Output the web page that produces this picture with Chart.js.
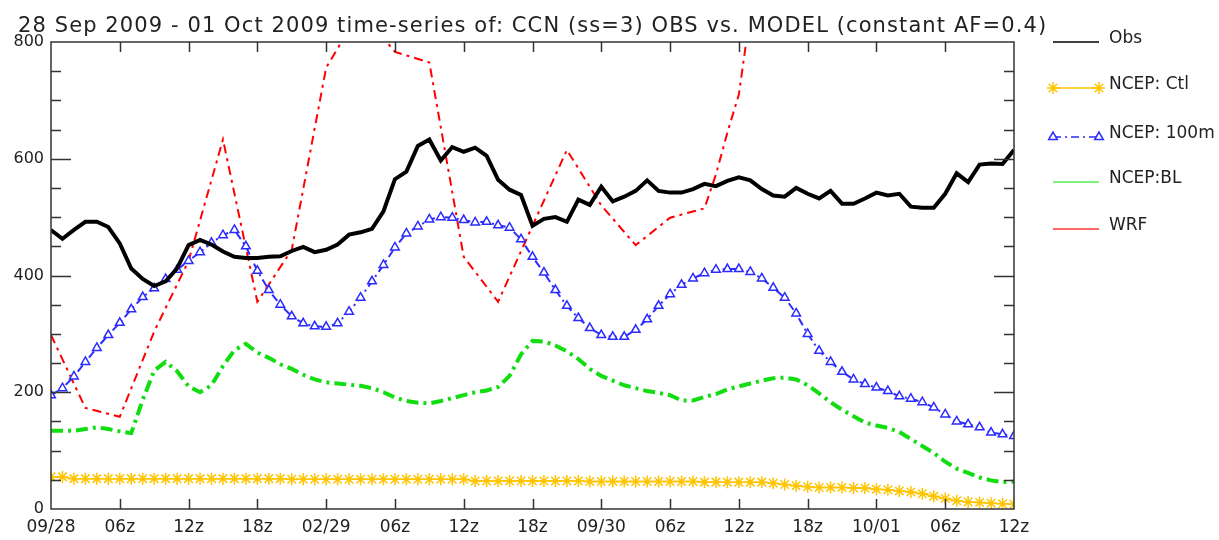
<!DOCTYPE html>
<html>
<head>
<meta charset="utf-8">
<script src="https://cdn.jsdelivr.net/npm/chart.js@4/dist/chart.umd.min.js"></script>
<style>
    html, body { margin: 0; padding: 0; background: #fff; }
    #wrap { width: 1219px; height: 540px; position: relative; }
</style>
</head>
<body>
<div id="wrap"><canvas id="chart_ccn"></canvas></div>
<script>
const titleText = "28 Sep 2009 - 01 Oct 2009 time-series of: CCN (ss=3) OBS vs. MODEL (constant AF=0.4)";

// x ticks every 6 h from 09/28 00z to 10/01 12z
const xTickLabels = ["09/28", "06z", "12z", "18z", "02/29", "06z", "12z", "18z",
    "09/30", "06z", "12z", "18z", "10/01", "06z", "12z"];

// hourly time axis (hours since 09/28 00z)
const hours = [
    0, 1, 2, 3, 4, 5, 6, 7, 8, 9, 10, 11, 12, 13, 14, 15, 16, 17, 18, 19,
    20, 21, 22, 23, 24, 25, 26, 27, 28, 29, 30, 31, 32, 33, 34, 35, 36, 37, 38, 39,
    40, 41, 42, 43, 44, 45, 46, 47, 48, 49, 50, 51, 52, 53, 54, 55, 56, 57, 58, 59,
    60, 61, 62, 63, 64, 65, 66, 67, 68, 69, 70, 71, 72, 73, 74, 75, 76, 77, 78, 79,
    80, 81, 82, 83, 84];

const obsValues = [
    478, 463, 478, 492, 492, 483, 455, 412, 394, 382,
    390, 412, 452, 461, 453, 441, 432, 430, 430, 432,
    433, 442, 449, 440, 444, 453, 470, 474, 480, 510,
    565, 578, 622, 633, 597, 620, 612, 619, 605, 564,
    547, 538, 485, 497, 500, 492, 530, 521, 552, 527,
    535, 545, 563, 545, 542, 542, 548, 557, 553, 562,
    568, 563, 548, 537, 535, 550, 540, 532, 545, 523,
    523, 532, 542, 537, 540, 518, 516, 516, 540, 575,
    560, 590, 592, 591, 615];

const ctlValues = [
    55, 55, 52, 52, 52, 52, 52, 52, 52, 52,
    52, 52, 52, 52, 52, 52, 52, 52, 52, 52,
    52, 51, 51, 51, 51, 51, 51, 51, 51, 51,
    51, 51, 51, 51, 51, 51, 51, 48, 48, 48,
    48, 48, 48, 48, 48, 48, 48, 47, 47, 47,
    47, 47, 47, 47, 47, 47, 47, 46, 46, 46,
    46, 46, 46, 44, 42, 40, 38, 37, 37, 37,
    36, 36, 34, 33, 31, 29, 26, 22, 18, 14,
    12, 11, 10, 9, 8];

const m100Values = [
    195, 207, 227, 252, 276, 298, 319, 342, 363, 378,
    394, 410, 425, 440, 456, 469, 478, 450, 408, 375,
    350, 330, 318, 313, 312, 318, 338, 362, 390, 418,
    448, 472, 484, 496, 500, 499, 495, 491, 492, 486,
    482, 462, 432, 405, 375, 348, 327, 310, 298, 295,
    295, 307, 325, 348, 368, 384, 395, 404, 410, 411,
    411, 406, 395, 379, 362, 335, 300, 271, 252, 235,
    222, 214, 208, 202, 193, 189, 183, 174, 162, 150,
    145, 140, 131, 128, 125];

const blValues = [
    134, 134, 134, 137, 140, 137, 133, 130, 187, 237,
    252, 236, 210, 200, 212, 245, 272, 283, 268, 259,
    248, 240, 230, 222, 217, 215, 213, 211, 207, 200,
    191, 185, 182, 181, 185, 190, 195, 200, 203, 209,
    228, 265, 288, 287, 280, 270, 257, 240, 228, 220,
    212, 207, 202, 199, 195, 186, 186, 192, 197, 205,
    210, 215, 220, 224, 225, 222, 212, 198, 183, 170,
    159, 148, 143, 139, 132, 120, 108, 96, 81, 69,
    62, 54, 49, 46, 47];

// WRF is only output at a coarser step
const wrfHours = [0, 3, 6, 9, 12, 15, 18, 21, 24, 27, 30, 33, 36, 39, 42, 45, 48, 51, 54, 57, 58, 59, 60, 61, 62];
const wrfValues = [298, 173, 158, 304, 425, 633, 355, 444, 756, 855, 783, 765, 432, 355, 485, 615, 520, 452, 499, 515, 573, 645, 710, 850, 1000];

const toXY = (xs, ys) => xs.map((x, i) => ({ x: x, y: ys[i] }));

const FONT = "'DejaVu Sans', 'Liberation Sans', sans-serif";
const INK = "#222";

const datasets = [
    {
        label: "Obs",
        data: toXY(hours, obsValues),
        borderColor: "#000000",
        borderWidth: 4,
        pointRadius: 0,
        legend: { color: "#000000", width: 1.5 },
    },
    {
        label: "NCEP: Ctl",
        data: toXY(hours, ctlValues),
        borderColor: "#FFC400",
        borderWidth: 1.5,
        pointStyle: "star",
        pointRadius: 6,
        pointBorderWidth: 1.5,
        pointBorderColor: "#FFC400",
        legend: { color: "#FFC400", width: 1.5, marker: "star" },
    },
    {
        label: "NCEP: 100m",
        data: toXY(hours, m100Values),
        borderColor: "#2B2BFF",
        borderWidth: 2,
        borderDash: [8, 4, 2, 4],
        pointStyle: "triangle",
        pointRadius: 5,
        pointBorderWidth: 1.5,
        pointBorderColor: "#2B2BFF",
        pointBackgroundColor: "#ffffff",
        legend: { color: "#2B2BFF", width: 1.5, dash: [8, 4, 2, 4], marker: "triangle" },
    },
    {
        label: "NCEP:BL",
        data: toXY(hours, blValues),
        borderColor: "#11DD11",
        borderWidth: 4,
        borderDash: [12, 5, 3, 5],
        pointRadius: 0,
        legend: { color: "#55EE55", width: 1.5 },
    },
    {
        label: "WRF",
        data: toXY(wrfHours, wrfValues),
        borderColor: "#FF0000",
        borderWidth: 2,
        borderDash: [9, 5, 3, 5],
        pointRadius: 0,
        legend: { color: "#FF3333", width: 1.5 },
    },
];

// box round the plot, ticks pointing inwards, title and side legend
const gradsFrame = {
    id: "gradsFrame",
    afterDatasetsDraw(chart) {
        const { ctx, chartArea: a, scales } = chart;
        const xs = scales.x, ys = scales.y;
        ctx.save();
        ctx.strokeStyle = "#333";
        ctx.lineWidth = 1.5;
        ctx.setLineDash([]);
        ctx.strokeRect(a.left, a.top, a.right - a.left, a.bottom - a.top);
        ctx.beginPath();
        for (let v = 50; v < 800; v += 50) {
            const py = Math.round(ys.getPixelForValue(v)) + 0.5;
            const len = v % 200 === 0 ? 20 : 10;
            ctx.moveTo(a.left, py); ctx.lineTo(a.left + len, py);
            ctx.moveTo(a.right, py); ctx.lineTo(a.right - len, py);
        }
        for (let h = 6; h < 84; h += 6) {
            const px = Math.round(xs.getPixelForValue(h)) + 0.5;
            ctx.moveTo(px, a.bottom); ctx.lineTo(px, a.bottom - 10);
            ctx.moveTo(px, a.top); ctx.lineTo(px, a.top + 10);
        }
        ctx.stroke();
        ctx.restore();
    },
    afterDraw(chart) {
        const ctx = chart.ctx;
        ctx.save();
        ctx.fillStyle = INK;
        ctx.textBaseline = "alphabetic";
        ctx.textAlign = "left";
        ctx.font = "21px " + FONT;
        ctx.letterSpacing = "1.1px";
        ctx.fillText(titleText, 18, 32);
        ctx.letterSpacing = "0px";

        const rowY = [42, 88, 137, 182, 229];
        const x0 = 1053, x1 = 1099;
        chart.data.datasets.forEach((ds, i) => {
            const lg = ds.legend, y = rowY[i];
            ctx.strokeStyle = lg.color;
            ctx.lineWidth = lg.width;
            ctx.setLineDash(lg.dash || []);
            ctx.beginPath();
            ctx.moveTo(x0, y); ctx.lineTo(x1, y);
            ctx.stroke();
            ctx.setLineDash([]);
            if (lg.marker) {
                [x0, x1].forEach(px => {
                    ctx.fillStyle = "#ffffff";
                    ctx.strokeStyle = lg.color;
                    Chart.helpers.drawPoint(ctx, {
                        pointStyle: lg.marker,
                        radius: lg.marker === "star" ? 6 : 5,
                        rotation: 0,
                        borderWidth: 1.5,
                    }, px, y);
                });
            }
            ctx.fillStyle = INK;
            ctx.font = "17px " + FONT;
            ctx.fillText(ds.label, 1109, y + 1);
        });
        ctx.restore();
    },
};

const config = {
    type: "line",
    data: { datasets: datasets },
    options: {
        responsive: true,
        maintainAspectRatio: false,
        animation: false,
        layout: { padding: { top: 42, right: 205, left: 0, bottom: 0 } },
        elements: { line: { tension: 0 } },
        plugins: {
            legend: { display: false },
            title: { display: false },
            tooltip: { enabled: false },
        },
        scales: {
            x: {
                type: "linear",
                min: 0,
                max: 84,
                grid: { display: false, drawTicks: false },
                border: { display: false },
                ticks: {
                    stepSize: 6,
                    autoSkip: false,
                    maxRotation: 0,
                    padding: 8,
                    color: INK,
                    font: { family: FONT, size: 17 },
                    callback: (v) => xTickLabels[Math.round(v / 6)],
                },
                afterFit: (s) => { s.height = 31; },
            },
            y: {
                min: 0,
                max: 800,
                grid: { display: false, drawTicks: false },
                border: { display: false },
                ticks: {
                    stepSize: 200,
                    padding: 7,
                    color: INK,
                    font: { family: FONT, size: 16 },
                },
                afterFit: (s) => { s.width = 51; },
            },
        },
    },
    plugins: [gradsFrame],
};

const ctxCcn = document.getElementById("chart_ccn");
const ccnChart = new Chart(ctxCcn, config);
</script>
</body>
</html>
